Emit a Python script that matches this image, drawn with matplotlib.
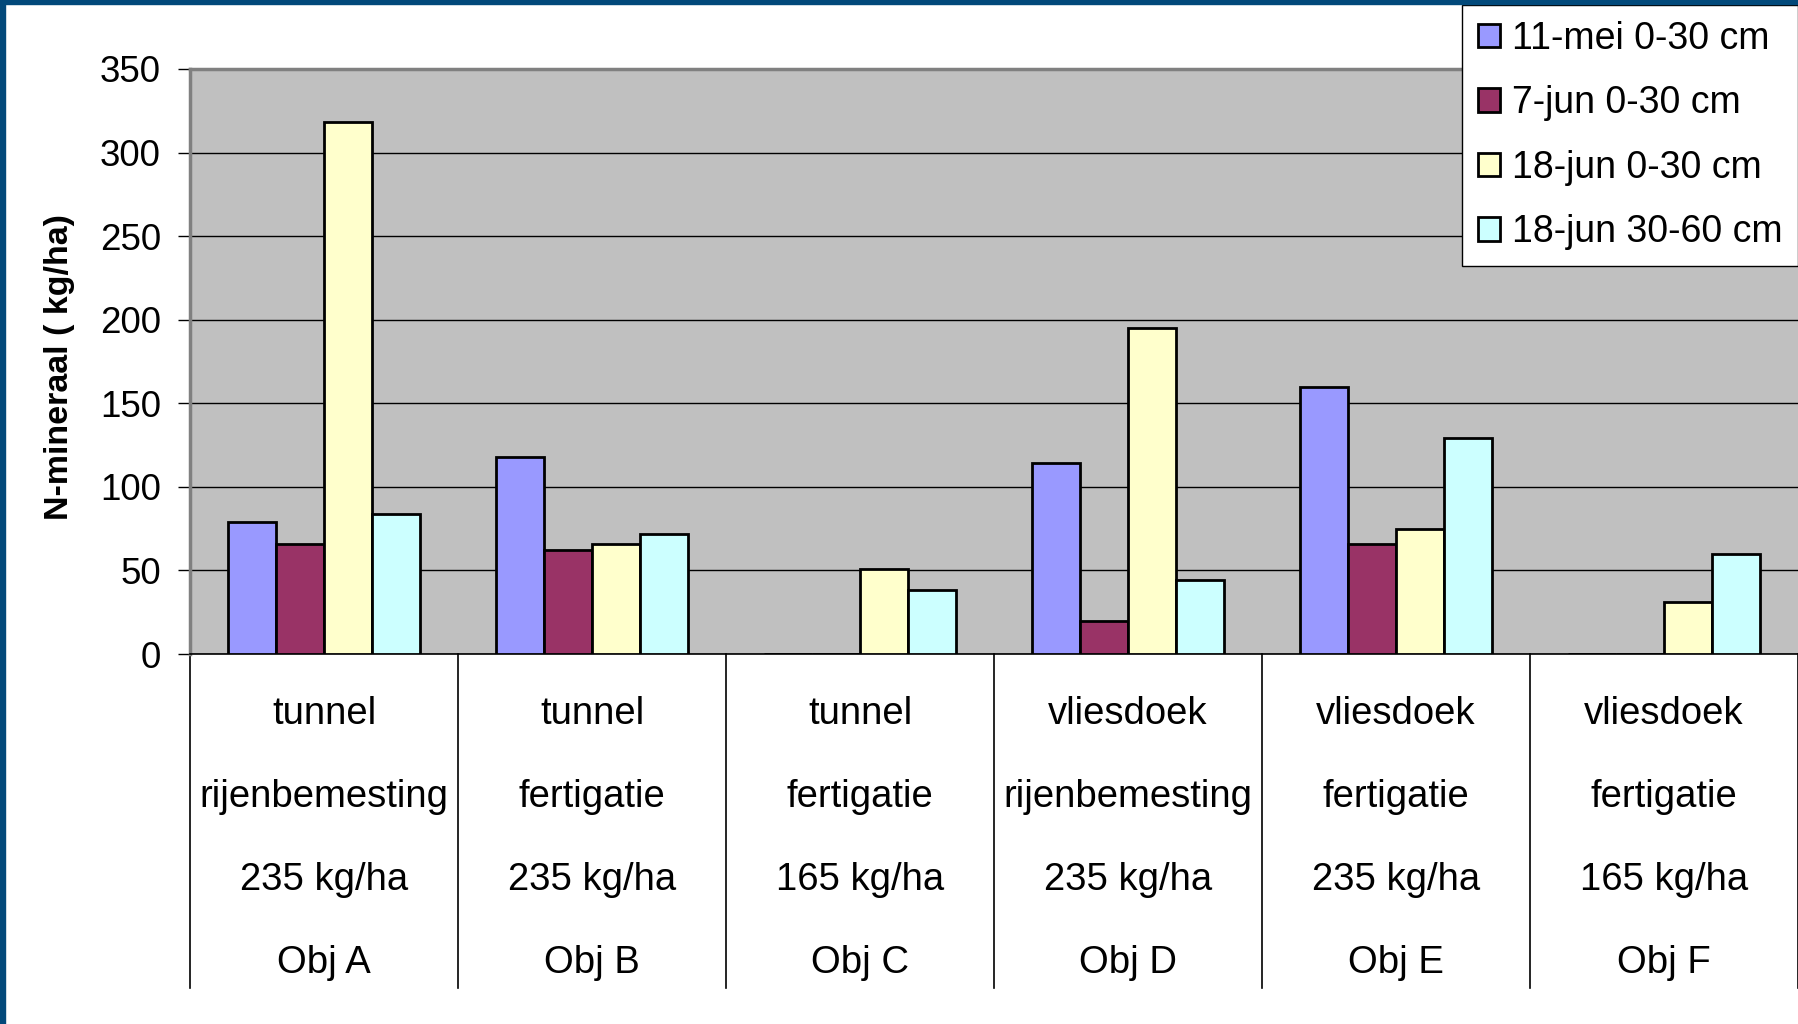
import matplotlib.pyplot as plt
import matplotlib.transforms as mtransforms
from matplotlib.patches import Rectangle
from matplotlib.lines import Line2D
import numpy as np

plt.rcParams['font.family'] = ['Liberation Sans', 'DejaVu Sans']

# category labels (4 lines per group)
line1 = ['tunnel', 'tunnel', 'tunnel', 'vliesdoek', 'vliesdoek', 'vliesdoek']
line2 = ['rijenbemesting', 'fertigatie', 'fertigatie', 'rijenbemesting', 'fertigatie', 'fertigatie']
line3 = ['235 kg/ha', '235 kg/ha', '165 kg/ha', '235 kg/ha', '235 kg/ha', '165 kg/ha']
line4 = ['Obj A', 'Obj B', 'Obj C', 'Obj D', 'Obj E', 'Obj F']

series = ['11-mei 0-30 cm', '7-jun 0-30 cm', '18-jun 0-30 cm', '18-jun 30-60 cm']
mei11 = [79, 118, 0, 114, 160, 0]
jun7 = [66, 62, 0, 20, 66, 0]
jun18_top = [318, 66, 51, 195, 75, 31]
jun18_deep = [84, 72, 38, 44, 129, 60]
colors = ['#9999FF', '#993366', '#FFFFCC', '#CCFFFF']

W, H = 1798, 1024
fig = plt.figure(figsize=(W / 100, H / 100), dpi=100)

# plot area in pixel coords
left, top, bottom = 190, 69, 654
ax = fig.add_axes([left / W, 1 - bottom / H, (W - left) / W, (bottom - top) / H])
ax.set_facecolor('#C0C0C0')

x = np.arange(len(line4))
bw = 0.18
for k, (vals, lab) in enumerate(zip([mei11, jun7, jun18_top, jun18_deep], series)):
    ax.bar(x + (k - 1.5) * bw, vals, bw, color=colors[k], edgecolor='black',
           linewidth=2, label=lab, zorder=3)

ax.set_xlim(-0.5, 5.5)
ax.set_ylim(0, 350)
ax.set_yticks(np.arange(0, 351, 50))
ax.set_xticks([])
ax.yaxis.grid(True, color='black', linewidth=1)
ax.set_axisbelow(True)
ax.tick_params(axis='y', labelsize=26.5, length=9, width=1, pad=12, direction='out')

for s in ['left', 'top']:
    ax.spines[s].set_color('#808080')
    ax.spines[s].set_linewidth(2.5)
ax.spines['right'].set_visible(False)
ax.spines['bottom'].set_color('black')
ax.spines['bottom'].set_linewidth(1.2)

# category text below the axis
trans = mtransforms.blended_transform_factory(ax.transData, fig.transFigure)
rows = [714, 797, 880, 963]
for i in range(len(line4)):
    for txt, ypx in zip([line1[i], line2[i], line3[i], line4[i]], rows):
        ax.text(x[i], 1 - ypx / H, txt, transform=trans, ha='center', va='center',
                fontsize=27.5, clip_on=False)
for xb in np.arange(-0.5, 6, 1):
    ax.add_line(Line2D([xb, xb], [1 - bottom / H, 1 - 988 / H], transform=trans,
                       color='black', linewidth=1.2, clip_on=False))

fig.text(60 / W, 1 - 367 / H, 'N-mineraal ( kg/ha)', rotation=90, ha='center',
         va='center', fontsize=24.5, fontweight='bold')

leg = fig.legend(loc='upper right', bbox_to_anchor=(1.0, 1 - 5 / H), fontsize=27,
                 frameon=True, fancybox=False, edgecolor='black', framealpha=1,
                 handlelength=0.6, handleheight=0.6, handletextpad=0.3,
                 labelspacing=0.76, borderpad=0.42, borderaxespad=0)
leg.get_frame().set_linewidth(1)

# dark blue frame on the left and top
fig.patches.append(Rectangle((0, 0), 5 / W, 1, transform=fig.transFigure,
                             color='#02497A', zorder=10))
fig.patches.append(Rectangle((0, 1 - 4 / H), 1, 4 / H, transform=fig.transFigure,
                             color='#02497A', zorder=10))

plt.savefig('out.png', dpi=100)
